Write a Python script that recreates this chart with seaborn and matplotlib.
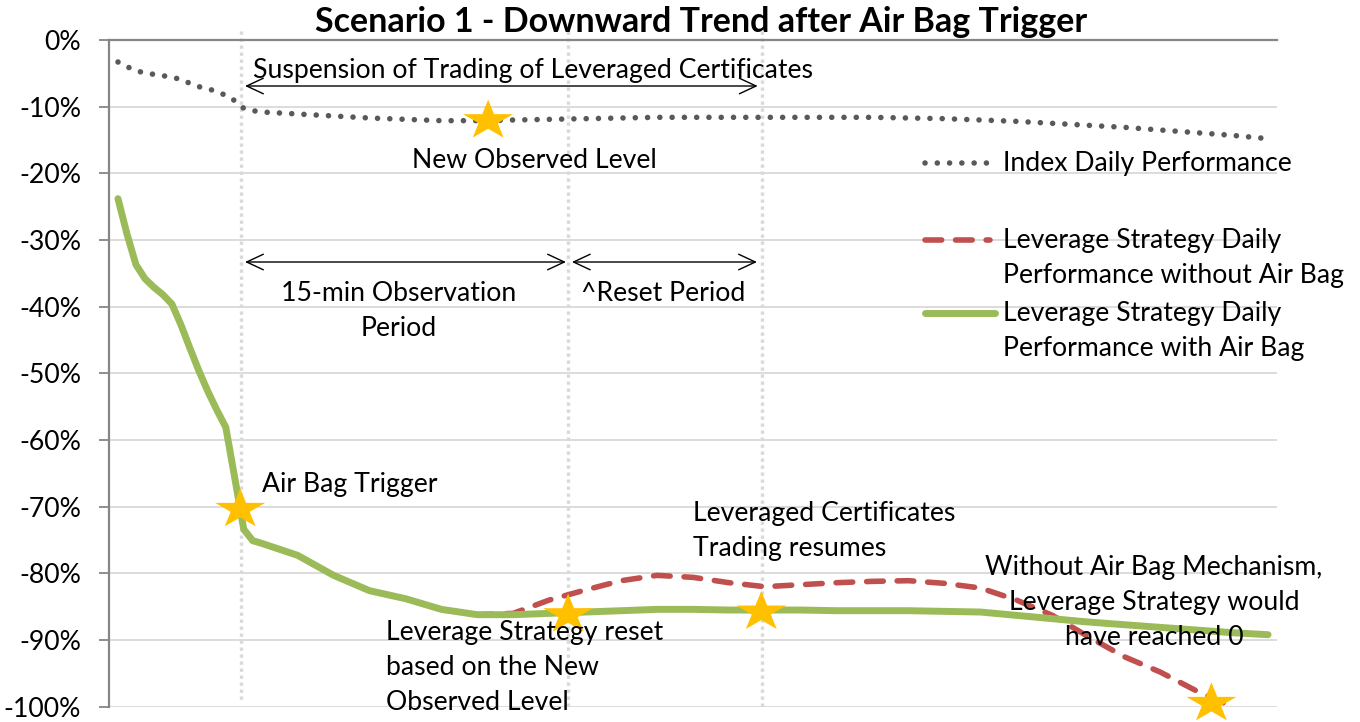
import matplotlib
matplotlib.use("Agg")
import matplotlib.pyplot as plt
import seaborn as sns
import numpy as np
import pandas as pd
from matplotlib.path import Path
from matplotlib.ticker import FuncFormatter

# ---------------- data ----------------
TITLE = "Scenario 1 - Downward Trend after Air Bag Trigger"
SERIES_NAMES = ["Index Daily Performance",
                "Leverage Strategy Daily\nPerformance without Air Bag",
                "Leverage Strategy Daily\nPerformance with Air Bag"]

# time step (category index)
t = [0, 0.5, 1, 1.5, 2, 2.5, 3, 3.5, 4, 4.5, 5, 5.5, 6, 6.5, 7, 7.5, 8,
     10, 12, 14, 16, 18, 20, 22, 24, 26, 28, 30, 32, 34, 36, 38, 40,
     42, 44, 46, 48, 50, 52, 54, 56, 58, 60, 62, 64]

index_perf = [-3.3, -4.0, -4.6, -4.95, -5.15, -5.35, -5.6, -5.9, -6.5, -7.0, -7.3, -7.75,
              -8.3, -9.1, -10.25, -10.6, -10.8,
              -11.1, -11.4, -11.7, -11.9, -12.1, -12.1, -12.0, -11.9, -11.8, -11.7, -11.6,
              -11.6, -11.6, -11.6, -11.6, -11.6, -11.6, -11.7, -11.8, -12.0, -12.2,
              -12.5, -12.8, -13.1, -13.5, -13.9, -14.3, -14.8]

with_airbag = [-23.8, -29.1, -33.7, -35.8, -37.1, -38.2, -39.6, -42.7, -46.2, -49.6,
               -52.7, -55.5, -58.1, -65.7, -73.4, -75.1, -75.5,
               -77.3, -80.3, -82.6, -83.8, -85.4, -86.2, -86.2, -86.0, -85.8, -85.6, -85.4,
               -85.4, -85.5, -85.5, -85.5, -85.6, -85.6, -85.6, -85.7, -85.8, -86.3,
               -86.8, -87.3, -87.7, -88.1, -88.5, -88.9, -89.2]

without_airbag = [-23.8, -29.1, -33.7, -35.8, -37.1, -38.2, -39.6, -42.7, -46.2, -49.6,
                  -52.7, -55.5, -58.1, -65.7, -73.4, -75.1, -75.5,
                  -77.3, -80.3, -82.6, -83.8, -85.4, -86.2, -86.0, -84.0, -82.5, -81.1, -80.3,
                  -80.6, -81.4, -82.0, -81.7, -81.4, -81.2, -81.1, -81.5, -82.2, -84.0,
                  -86.3, -89.5, -92.5, -94.8, -97.6, -100.0, np.nan]

# event markers (stars)
star_t = [6.8, 20.6, 25.05, 35.8, 60.85]
star_v = [-70.4, -12.1, -86.2, -85.8, -99.5]

y_ticks = list(range(-100, 1, 10))

# ---------------- style ----------------
sns.set_theme(style="white")
plt.rcParams['font.family'] = ['Lato', 'DejaVu Sans']

W, H = 1360, 722
fig = plt.figure(figsize=(W / 100, H / 100), dpi=100)
ax = fig.add_axes([109 / W, 1 - 706.7 / H, 1168 / W, 666.7 / H])

renderer = fig.canvas.get_renderer()


def text_box(s, size, weight="normal", ls=1.0):
    tt = fig.text(0, 0, s, fontsize=size, fontweight=weight, linespacing=ls)
    bb = tt.get_window_extent(renderer)
    tt.remove()
    return bb.width, bb.height


FS = 20 * 290 / text_box("Index Daily Performance", 20)[0]
TFS = 20 * 771 / text_box(TITLE, 20, "bold")[0]
h1 = text_box("Ag", FS)[1]
h2 = text_box("Ag\nAg", FS)[1]
LS = 37.5 / (h2 - h1)

GRAY_IDX = "#595959"
RED = "#C0504D"
GREEN = "#9BBB59"
GOLD = "#FFC000"
VLINE = "#D9D9D9"

IDX_STYLE = dict(color=GRAY_IDX, lw=4.0, linestyle=(0, (0.01, 2.2)), dash_capstyle="round")
RED_STYLE = dict(color=RED, lw=4.0, linestyle=(0, (3.0, 2.5)), dash_capstyle="round")
GREEN_STYLE = dict(color=GREEN, lw=5.0, solid_capstyle="round")

df = pd.DataFrame({"t": t, "index": index_perf,
                   "without": without_airbag, "with": with_airbag})

# vertical dotted guides
for xv, y0 in [(6.84, -99.0), (25.04, -100.0), (35.84, -100.0)]:
    ax.plot([xv, xv], [1.4, y0], color=VLINE, lw=2.4,
            linestyle=(0, (1.0, 1.1)), clip_on=False, zorder=1)

sns.lineplot(data=df, x="t", y="index", ax=ax, errorbar=None, zorder=3, **IDX_STYLE)
sns.lineplot(data=df.dropna(subset=["without"]), x="t", y="without", ax=ax,
             errorbar=None, zorder=3, **RED_STYLE)
sns.lineplot(data=df, x="t", y="with", ax=ax, errorbar=None, zorder=4, **GREEN_STYLE)

# star marker (Excel-like, slightly flattened)
star = Path.unit_regular_star(5, 0.382)
sv = star.vertices.copy()
sv[:, 1] = sv[:, 1] * 0.8
star_marker = Path(sv, star.codes)
sns.scatterplot(x=star_t, y=star_v, ax=ax, marker=star_marker, s=36 ** 2,
                color=GOLD, edgecolor="none", linewidth=0, zorder=6, legend=False,
                clip_on=False)

# axes
ax.set_xlim(-0.5, 64.5)
ax.set_ylim(-100, 0)
ax.set_xticks([])
ax.set_yticks(y_ticks)
ax.yaxis.set_major_formatter(FuncFormatter(lambda v, p: f"{int(round(v))}%"))
ax.set_xlabel("")
ax.set_ylabel("")
ax.yaxis.grid(True, color="#D9D9D9", linewidth=1.3, zorder=0)
ax.xaxis.grid(False)
ax.set_axisbelow(True)
for s in ["bottom", "right"]:
    ax.spines[s].set_visible(False)
for s in ["left", "top"]:
    ax.spines[s].set_color("#868686")
    ax.spines[s].set_linewidth(1.6)
ax.tick_params(axis="y", left=True, direction="out", length=7.2, width=1.3,
               color="#868686", pad=13, labelsize=FS, labelcolor="black")

# arrows
arrow_kw = dict(arrowstyle="<->,head_length=0.6,head_width=0.28", color="black",
                lw=1.0, shrinkA=0, shrinkB=0, mutation_scale=20)
for x0, x1, yv in [(7.07, 35.6, -6.9), (7.07, 24.93, -33.3), (25.26, 35.56, -33.3)]:
    ax.annotate("", xy=(x1, yv), xytext=(x0, yv), arrowprops=arrow_kw, zorder=5)

txt = dict(fontsize=FS, color="black", linespacing=LS, zorder=7)
ax.text(7.51, -4.5, "Suspension of Trading of Leveraged Certificates", ha="left", va="center", **txt)
ax.text(23.15, -18.0, "New Observed Level", ha="center", va="center", **txt)
ax.text(15.64, -40.6, "15-min Observation\nPeriod", ha="center", va="center", **txt)
ax.text(30.33, -38.0, "^Reset Period", ha="center", va="center", **txt)
ax.text(8.01, -66.6, "Air Bag Trigger", ha="left", va="center", **txt)
ax.text(32.0, -73.7, "Leveraged Certificates\nTrading resumes", ha="left", va="center", **txt)
ax.text(14.91, -94.05, "Leverage Strategy reset\nbased on the New\nObserved Level",
        ha="left", va="center", **txt)
ax.text(57.65, -84.3, "Without Air Bag Mechanism,\nLeverage Strategy would\nhave reached 0",
        ha="center", va="center", multialignment="center", **txt)

# legend (drawn manually to match handle placement)
lx0 = (925 - 109) / 1168
lx1 = (990 - 109) / 1168
ltx = (1003 - 109) / 1168


def ay(py):
    return 1 - (py - 40) / 666.7


ax.plot([lx0, lx1], [ay(163), ay(163)], transform=ax.transAxes, clip_on=False, **IDX_STYLE)
ax.plot([lx0, lx1], [ay(240), ay(240)], transform=ax.transAxes, clip_on=False, **RED_STYLE)
ax.plot([lx0, (995 - 109) / 1168], [ay(313), ay(313)], transform=ax.transAxes,
        clip_on=False, **GREEN_STYLE)
for name, py in zip(SERIES_NAMES, [163, 258, 331]):
    ax.text(ltx, ay(py), name, transform=ax.transAxes, ha="left", va="center", **txt)

fig.text(701.5 / W, 1 - 22 / H, TITLE, ha="center", va="center",
         fontsize=TFS, fontweight="bold", color="black")

fig.savefig("out.png", dpi=100, facecolor="white")
